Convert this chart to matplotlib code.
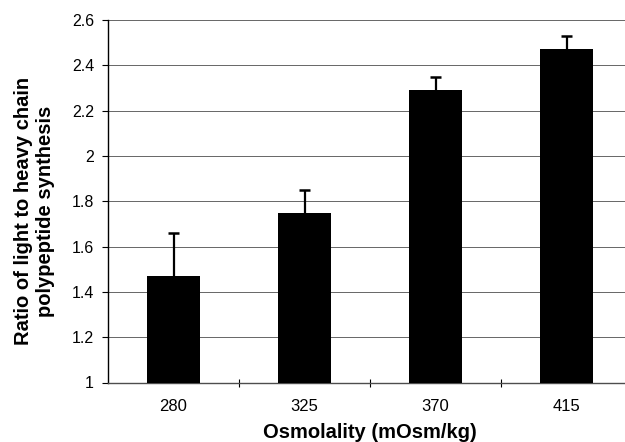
import matplotlib.pyplot as plt
import numpy as np

plt.rcParams['font.family'] = ['Liberation Sans', 'DejaVu Sans']

# Light/heavy chain synthesis ratio at each osmolality
osmolality = ['280', '325', '370', '415']
ratio = [1.47, 1.75, 2.29, 2.47]
ratio_err = [0.19, 0.10, 0.06, 0.06]

fig = plt.figure(figsize=(6.25, 4.42), dpi=100)
ax = fig.add_axes([108 / 625, 1 - 382.5 / 442, 524 / 625, 362.5 / 442])

x = np.arange(len(osmolality))
top = np.array(ratio) + np.array(ratio_err)
ax.bar(x, ratio, width=0.41, color='black', zorder=3)
# upper-only error bars with a cap
ax.vlines(x, ratio, top, color='black', linewidth=1.6, zorder=4)
ax.hlines(top, x - 0.045, x + 0.045, color='black', linewidth=1.8, zorder=4)

ax.set_ylim(1, 2.6)
ax.set_xlim(-0.5, len(osmolality) - 0.5)
ax.set_yticks(np.arange(1, 2.61, 0.2))
ax.set_yticklabels(['1', '1.2', '1.4', '1.6', '1.8', '2', '2.2', '2.4', '2.6'])
ax.set_xticks(x)
ax.set_xticklabels(osmolality)
ax.tick_params(axis='x', length=0, pad=12, labelsize=12)
ax.tick_params(axis='y', length=4, width=0.8, pad=6, labelsize=11.5)

# category boundary ticks on the x axis
ax.set_xticks(x[:-1] + 0.5, minor=True)
ax.tick_params(axis='x', which='minor', length=6, width=0.8, direction='inout')

ax.yaxis.grid(True, color='0.4', linewidth=0.7, zorder=0)
for side in ['top', 'right']:
    ax.spines[side].set_visible(False)
ax.spines['left'].set_linewidth(1.0)
ax.spines['bottom'].set_linewidth(1.0)
ax.spines['bottom'].set_color('0.3')

ax.set_xlabel('Osmolality (mOsm/kg)', fontsize=14.5, fontweight='bold', labelpad=6)
ax.set_ylabel('Ratio of light to heavy chain\npolypeptide synthesis',
              fontsize=14.5, fontweight='bold')
ax.yaxis.set_label_coords(-0.102, 0.473)

plt.savefig('out.png', dpi=100)
